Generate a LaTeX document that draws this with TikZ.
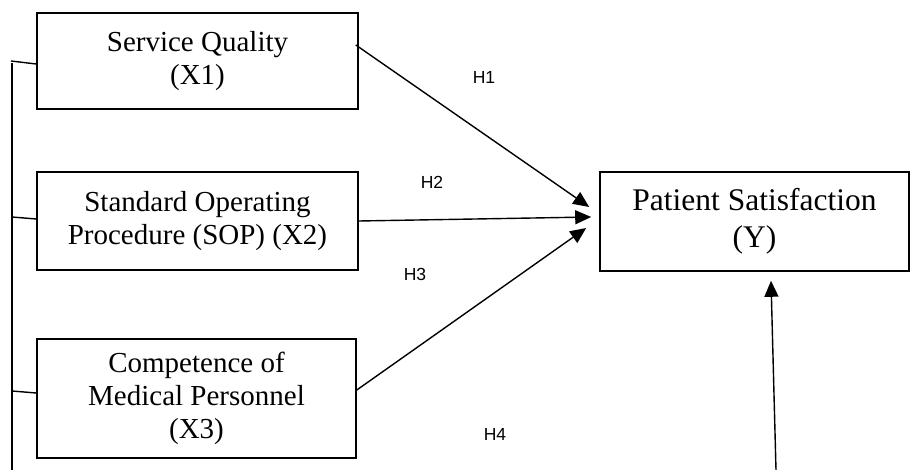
\documentclass[tikz,border=0pt]{standalone}
\usepackage{fontspec}
\setmainfont{Liberation Serif}
\newfontfamily\hfont{Liberation Sans}
\usetikzlibrary{arrows.meta}

\begin{document}
\begin{tikzpicture}[x=1pt,y=-1pt,
  varbox/.style={draw,line width=1.6pt,align=center,inner sep=0pt,
    font=\fontsize{29}{33}\selectfont},
  hyp/.style={font=\hfont\fontsize{17.5}{20}\selectfont},
  link/.style={line width=1.4pt,-{Triangle[length=16pt,width=14pt]}},
  rail/.style={line width=1.4pt}]
\useasboundingbox (0,0) rectangle (910,470);

% independent variables
\node[varbox,minimum width=321pt,minimum height=96pt]  (x1) at (197.5,61)
  {Service Quality\\(X1)};
\node[varbox,minimum width=321pt,minimum height=98pt]  (x2) at (197.5,221)
  {Standard Operating\\Procedure (SOP) (X2)};
\node[varbox,minimum width=319pt,minimum height=119pt] (x3) at (196.5,398.5)
  {Competence of\\Medical Personnel\\(X3)};
% dependent variable
\node[varbox,minimum width=309pt,minimum height=99pt,
  font=\fontsize{31.5}{37}\selectfont] (y) at (754.5,221.5)
  {Patient Satisfaction\\(Y)};

% hypotheses
\draw[link] ([xshift=-3pt,yshift=16pt]x1.east) -- ([xshift=-10pt,yshift=14.5pt]y.west);
\draw[link] (x2.east) -- ([xshift=-8pt,yshift=4.5pt]y.west);
\draw[link] ([yshift=8.5pt]x3.east) -- ([xshift=-13pt,yshift=-6.5pt]y.west);
\coordinate (yfoot) at (776,470);
\draw[link] (yfoot) -- ([xshift=16.5pt,yshift=-9pt]y.south);

\node[hyp] (h1) at (484,77)  {H1};
\node[hyp] (h2) at (432,182) {H2};
\node[hyp] (h3) at (415,274) {H3};
\node[hyp] (h4) at (495,434) {H4};

% left bracket
\coordinate (t1) at (11,61);
\coordinate (t2) at (12,217);
\coordinate (t3) at (12,391);
\coordinate (railbot) at (12,470);
\draw[rail] (12,63) -- (railbot);
\draw[rail] (t1) -- ([yshift=-3pt]x1.west);
\draw[rail] (t2) -- ([yshift=2pt]x2.west);
\draw[rail] (t3) -- ([yshift=5.5pt]x3.west);
\end{tikzpicture}
\end{document}
